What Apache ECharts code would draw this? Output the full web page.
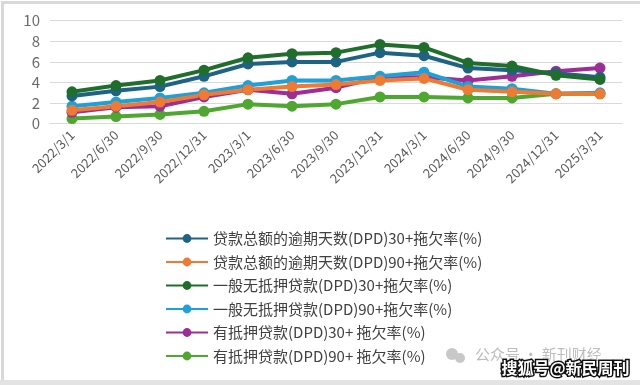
<!DOCTYPE html>
<html>
<head>
<meta charset="utf-8">
<script src="https://cdn.jsdelivr.net/npm/echarts@6/dist/echarts.min.js"></script>
<style>
html,body{margin:0;padding:0;background:#fff;}
#c{width:640px;height:385px;}
</style>
</head>
<body>
<div id="c"></div>
<script>
const categories = ['2022/3/1','2022/6/30','2022/9/30','2022/12/31','2023/3/1','2023/6/30','2023/9/30','2023/12/31','2024/3/1','2024/6/30','2024/9/30','2024/12/31','2025/3/31'];
const seriesNames = [
  '贷款总额的逾期天数(DPD)30+拖欠率(%)',
  '贷款总额的逾期天数(DPD)90+拖欠率(%)',
  '一般无抵押贷款(DPD)30+拖欠率(%)',
  '一般无抵押贷款(DPD)90+拖欠率(%)',
  '有抵押贷款(DPD)30+ 拖欠率(%)',
  '有抵押贷款(DPD)90+ 拖欠率(%)'
];
const totalDpd30 = [2.7, 3.2, 3.6, 4.6, 5.8, 6.0, 6.0, 6.9, 6.6, 5.4, 5.2, 4.9, 4.5];
const totalDpd90 = [1.3, 1.7, 2.1, 2.8, 3.3, 3.6, 3.8, 4.2, 4.4, 3.3, 3.1, 2.9, 2.9];
const unsecDpd30 = [3.1, 3.7, 4.2, 5.2, 6.4, 6.8, 6.9, 7.7, 7.4, 5.9, 5.6, 4.7, 4.3];
const unsecDpd90 = [1.7, 2.1, 2.5, 3.0, 3.7, 4.2, 4.2, 4.6, 5.0, 3.6, 3.4, 2.9, 3.0];
const secDpd30   = [1.1, 1.6, 1.7, 2.6, 3.3, 2.9, 3.5, 4.5, 4.5, 4.2, 4.6, 5.1, 5.4];
const secDpd90   = [0.5, 0.7, 0.9, 1.2, 1.9, 1.7, 1.9, 2.6, 2.6, 2.5, 2.5, 2.9, 2.9];
const yTicks = [0, 2, 4, 6, 8, 10];

const colors = ['#1E6284', '#EF7A32', '#1F6E2B', '#1DA1DA', '#9C2E96', '#4EA72E'];
const dataList = [totalDpd30, totalDpd90, unsecDpd30, unsecDpd90, secDpd30, secDpd90];
const drawOrder = [5, 4, 3, 1, 0, 2];

const chart = echarts.init(document.getElementById('c'), null, {renderer: 'canvas'});
const series = drawOrder.map(i => ({
  name: seriesNames[i],
  type: 'line',
  data: dataList[i],
  symbol: 'circle',
  symbolSize: 11,
  z: 2,
  lineStyle: {width: 4, color: colors[i]},
  itemStyle: {color: colors[i]},
  emphasis: {disabled: true}
}));

chart.setOption({
  animation: false,
  backgroundColor: '#fff',
  grid: {left: 50, right: 18, top: 20.7, bottom: 261.3, containLabel: false},
  xAxis: {
    type: 'category',
    data: categories,
    boundaryGap: true,
    axisLine: {show: true, lineStyle: {color: '#d9d9d9', width: 1}},
    axisTick: {show: false},
    axisLabel: {rotate: 45, fontSize: 13, color: '#595959', margin: 9, interval: 0, fontFamily: 'Noto Sans CJK SC'}
  },
  yAxis: {
    type: 'value',
    min: yTicks[0],
    max: yTicks[yTicks.length - 1],
    interval: 2,
    axisLine: {show: false},
    axisTick: {show: false},
    splitLine: {lineStyle: {color: '#d9d9d9', width: 1}},
    axisLabel: {fontSize: 15, color: '#6b6b6b', margin: 10, fontFamily: 'Noto Sans CJK SC'}
  },
  legend: {
    orient: 'vertical',
    left: 160,
    top: 225,
    itemWidth: 42,
    itemHeight: 11,
    itemGap: 6.5,
    data: seriesNames,
    selectedMode: false,
    textStyle: {fontSize: 15, color: '#404040', lineHeight: 17, fontFamily: 'Noto Sans CJK SC', padding: [0,0,0,0]}
  },
  graphic: [
    {type: 'rect', left: 0, top: 0, z: -1, silent: true, shape: {width: 640, height: 385}, style: {fill: 'none', stroke: '#d9d9d9', lineWidth: 3}},
    {type: 'rect', left: 0, top: 380, silent: true, shape: {width: 640, height: 5}, style: {fill: '#e3e3e3'}},
    {type: 'circle', left: 446, top: 348, silent: true, shape: {r: 6}, style: {fill: '#c8c8c8'}},
    {type: 'circle', left: 455, top: 353, silent: true, shape: {r: 5}, style: {fill: '#c8c8c8'}},
    {type: 'text', left: 475, top: 347, silent: true, style: {text: '公众号 · 新刊财经', fill: '#bdbdbd', font: '15px "Noto Sans CJK SC"'}},
    {type: 'text', left: 500, top: 358, z: 10, silent: true, style: {text: '搜狐号@新民周刊', fill: '#ffffff', stroke: '#111111', lineWidth: 3, font: 'bold 16px "Noto Sans CJK SC"'}}
  ],
  series: series
});
</script>
</body>
</html>
